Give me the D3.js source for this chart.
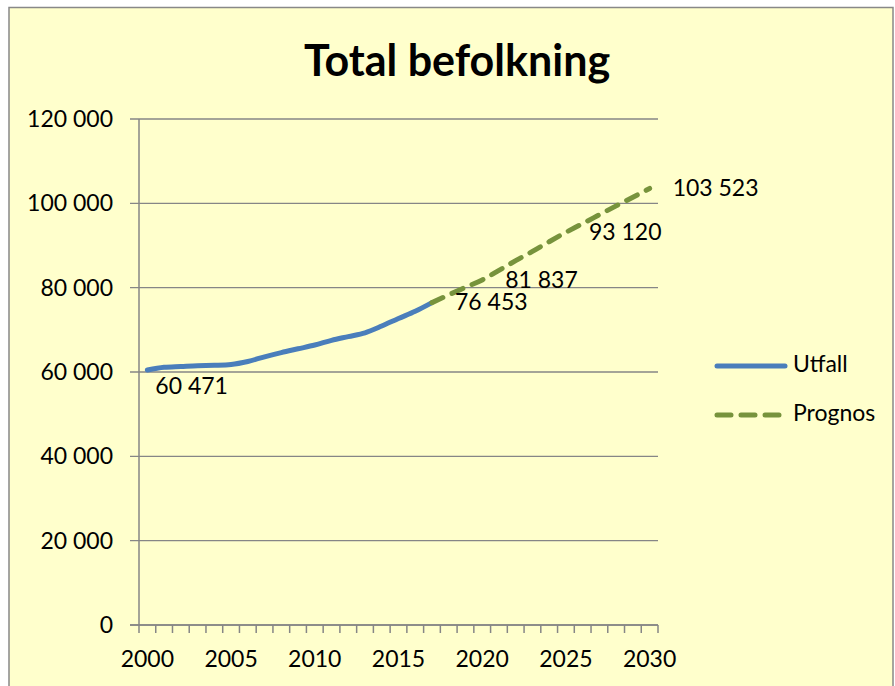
<!DOCTYPE html>
<html>
<head>
<meta charset="utf-8">
<script src="https://cdn.jsdelivr.net/npm/d3@7"></script>
<style>
  html, body { margin: 0; padding: 0; background: #fff; }
  svg { display: block; font-family: Lato, "Open Sans", sans-serif; }
</style>
</head>
<body>
<div id="chart"></div>
<script>
// Chart data
const years = d3.range(2000, 2031);
const yTicks = [0, 20000, 40000, 60000, 80000, 100000, 120000];
const xTickLabels = [2000, 2005, 2010, 2015, 2020, 2025, 2030];

const utfallYears = d3.range(2000, 2018);
const utfallValues = [60471, 61100, 61300, 61500, 61600, 61800, 62500, 63600, 64600,
  65500, 66400, 67500, 68400, 69300, 70900, 72700, 74400, 76453];

const prognosYears = d3.range(2017, 2031);
const prognosValues = [76453, 78300, 80100, 81837, 84100, 86400, 88600, 90900, 93120,
  95200, 97300, 99400, 101450, 103523];

const labelYears = [2000, 2017, 2020, 2025, 2030];

const COLORS = { utfall: '#4A7EBB', prognos: '#77933C', grid: '#868686', bg: '#FFFFCC' };

const width = 895, height = 686;
const fmt = d3.formatLocale({ decimal: ',', thousands: ' ', grouping: [3] }).format(',d');

const svg = d3.select('#chart').append('svg')
  .attr('width', width)
  .attr('height', height);

// chart area background + frame
svg.append('rect')
  .attr('x', 9).attr('y', 7.5)
  .attr('width', 884).attr('height', 700)
  .attr('fill', COLORS.bg)
  .attr('stroke', '#888')
  .attr('stroke-width', 1.5);

svg.append('text')
  .attr('x', 457).attr('y', 76)
  .attr('text-anchor', 'middle')
  .attr('font-size', 43)
  .attr('font-weight', 'bold')
  .text('Total befolkning');

const x = d3.scaleBand().domain(years).range([139, 658]).paddingInner(0).paddingOuter(0);
const cx = yr => x(yr) + x.bandwidth() / 2;
const y = d3.scaleLinear().domain([0, 120000]).range([625, 119]);

// gridlines + y ticks
svg.append('g').selectAll('line')
  .data(yTicks)
  .enter().append('line')
  .attr('x1', 130).attr('x2', 658)
  .attr('y1', d => y(d)).attr('y2', d => y(d))
  .attr('stroke', COLORS.grid).attr('stroke-width', 1.3);

// y axis labels
const yAxis = d3.axisLeft(y).tickValues(yTicks).tickFormat(fmt).tickSize(0).tickPadding(26);
const gy = svg.append('g').attr('transform', 'translate(139,0)').call(yAxis);
gy.select('.domain').remove();
gy.selectAll('text').attr('font-size', 23).attr('fill', '#000').attr('font-family', 'Lato');

// y axis line
svg.append('line')
  .attr('x1', 139).attr('x2', 139)
  .attr('y1', y(120000)).attr('y2', y(0))
  .attr('stroke', COLORS.grid).attr('stroke-width', 1.5);

// x axis ticks at category boundaries
const boundaries = years.map(d => x(d)).concat([658]);
svg.append('g').selectAll('line')
  .data(boundaries)
  .enter().append('line')
  .attr('x1', d => d).attr('x2', d => d)
  .attr('y1', 625).attr('y2', 633)
  .attr('stroke', COLORS.grid).attr('stroke-width', 1.5);

const xAxis = d3.axisBottom(x).tickValues(xTickLabels).tickSize(0).tickPadding(0);
const gx = svg.append('g').attr('transform', 'translate(0,625)').call(xAxis);
gx.select('.domain').remove();
gx.selectAll('text')
  .attr('font-size', 23).attr('fill', '#000').attr('font-family', 'Lato')
  .attr('dy', null).attr('y', 42);

svg.append('line')
  .attr('x1', 130).attr('x2', 658)
  .attr('y1', 625).attr('y2', 625)
  .attr('stroke', COLORS.grid).attr('stroke-width', 1.5);

// series
const line = d3.line().x(d => cx(d[0])).y(d => y(d[1])).curve(d3.curveMonotoneX);

svg.append('path')
  .datum(d3.zip(utfallYears, utfallValues))
  .attr('d', line)
  .attr('fill', 'none')
  .attr('stroke', COLORS.utfall)
  .attr('stroke-width', 5)
  .attr('stroke-linecap', 'round');

svg.append('path')
  .datum(d3.zip(prognosYears, prognosValues))
  .attr('d', line)
  .attr('fill', 'none')
  .attr('stroke', COLORS.prognos)
  .attr('stroke-width', 5)
  .attr('stroke-linecap', 'round')
  .attr('stroke-dasharray', '12,10');

// data labels
const allPoints = new Map(d3.zip(utfallYears, utfallValues).concat(d3.zip(prognosYears, prognosValues)));
svg.append('g').selectAll('text')
  .data(labelYears)
  .enter().append('text')
  .attr('x', d => d === 2000 ? cx(d) + 8 : cx(d) + 23)
  .attr('y', d => d === 2000 ? y(allPoints.get(d)) + 18 : y(allPoints.get(d)) + 2)
  .attr('dominant-baseline', 'middle')
  .attr('font-size', 23)
  .text(d => fmt(allPoints.get(d)));

// legend
const legend = [
  { name: 'Utfall', color: COLORS.utfall, dash: null, y: 366 },
  { name: 'Prognos', color: COLORS.prognos, dash: '14,10', y: 415 }
];
const lg = svg.append('g').selectAll('g').data(legend).enter().append('g');
lg.append('line')
  .attr('x1', 717).attr('x2', 785)
  .attr('y1', d => d.y).attr('y2', d => d.y)
  .attr('stroke', d => d.color)
  .attr('stroke-width', 5)
  .attr('stroke-linecap', 'round')
  .attr('stroke-dasharray', d => d.dash);
lg.append('text')
  .attr('x', 793).attr('y', d => d.y)
  .attr('dominant-baseline', 'middle')
  .attr('font-size', 23)
  .text(d => d.name);
</script>
</body>
</html>
